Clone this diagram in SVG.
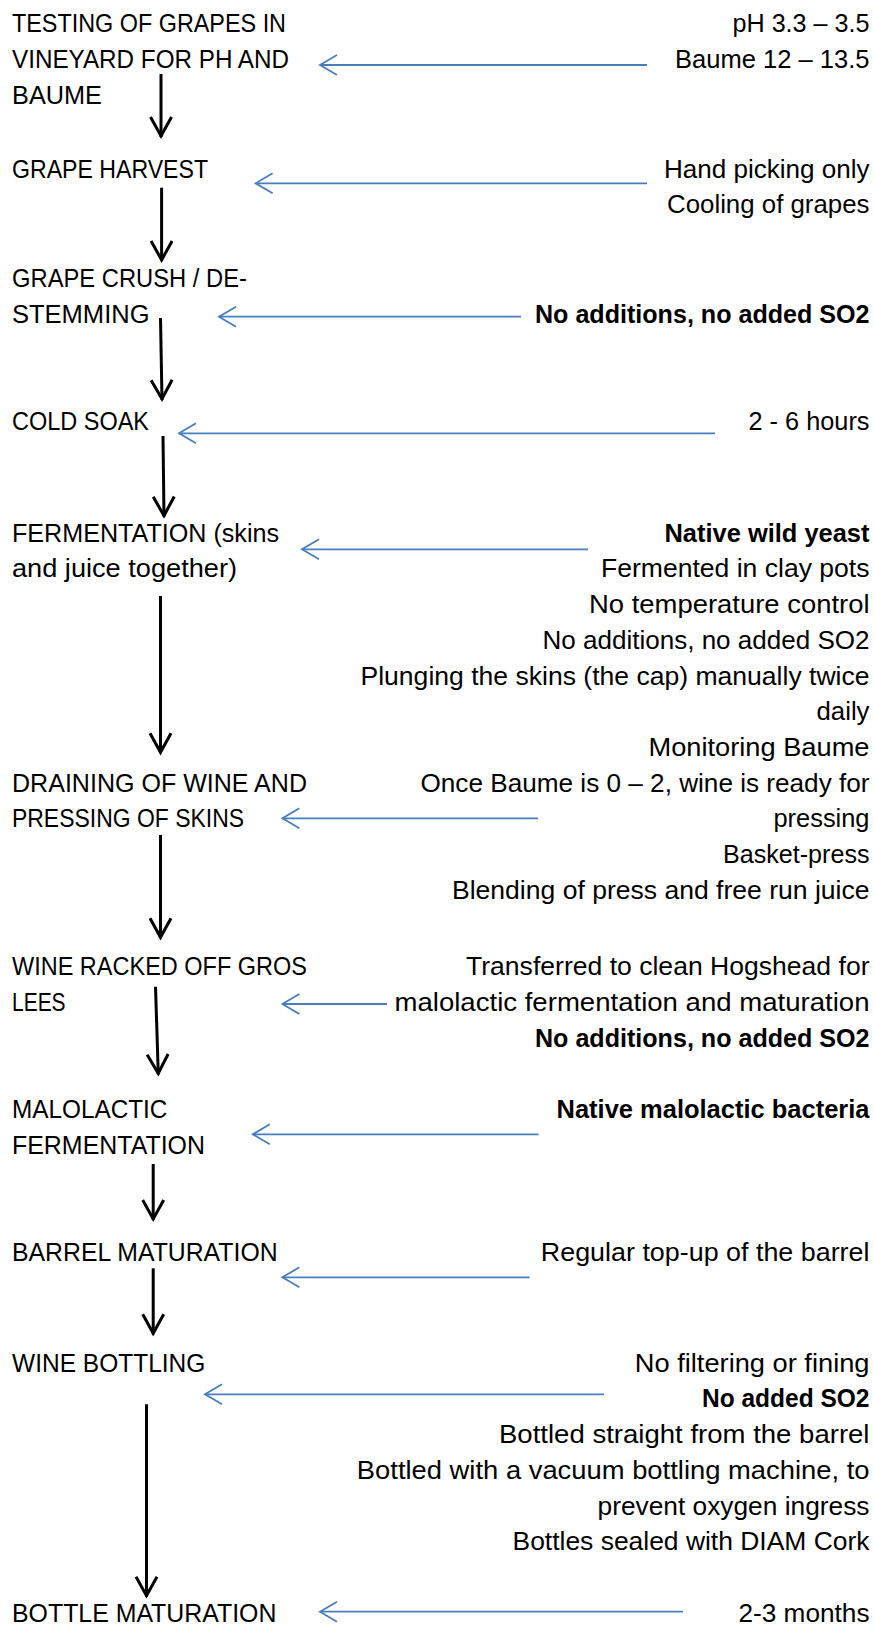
<svg xmlns="http://www.w3.org/2000/svg" width="874" height="1626" viewBox="0 0 874 1626">
<defs>
<style>
text{font-family:"Liberation Sans",Arial,sans-serif;font-size:25.5px;fill:#000}
.l{text-anchor:start}
.r{text-anchor:end}
.b{font-weight:bold}
.blk{stroke:#000;stroke-width:3;fill:none;marker-end:url(#ah)}
.blu{stroke:#4A7EBB;stroke-width:1.8;fill:none;marker-end:url(#bh)}
</style>
<marker id="ah" viewBox="-26 -14 30 28" refX="0" refY="0" markerWidth="30" markerHeight="28" markerUnits="userSpaceOnUse" orient="auto">
<path d="M-20,-10.5 L-1,0 L-20,10.5" fill="none" stroke="#000" stroke-width="3" stroke-linejoin="miter"/>
</marker>
<marker id="bh" viewBox="-22 -13 26 26" refX="0" refY="0" markerWidth="26" markerHeight="26" markerUnits="userSpaceOnUse" orient="auto">
<path d="M-17,-10 L0,0 L-17,10" fill="none" stroke="#4A7EBB" stroke-width="1.8"/>
</marker>
</defs>
<rect width="874" height="1626" fill="#fff"/>

<g id="connectors">
<line class="blk" x1="161" y1="74" x2="161" y2="137"/>
<line class="blk" x1="161.6" y1="187.7" x2="161.6" y2="261"/>
<line class="blk" x1="160.5" y1="318" x2="162" y2="400"/>
<line class="blk" x1="163" y1="436" x2="164" y2="516.7"/>
<line class="blk" x1="160.5" y1="596" x2="160.5" y2="753.3"/>
<line class="blk" x1="160.5" y1="835" x2="160.5" y2="938.3"/>
<line class="blk" x1="155.5" y1="986.7" x2="158.3" y2="1074.3"/>
<line class="blk" x1="153.2" y1="1164" x2="153.2" y2="1220"/>
<line class="blk" x1="153.2" y1="1268.3" x2="153.2" y2="1334.3"/>
<line class="blk" x1="146.5" y1="1404.3" x2="146.5" y2="1596.7"/>

<line class="blu" x1="647" y1="65" x2="320" y2="65"/>
<line class="blu" x1="647" y1="183.3" x2="255.6" y2="183.3"/>
<line class="blu" x1="521" y1="316.7" x2="219" y2="316.7"/>
<line class="blu" x1="715" y1="433.3" x2="179" y2="433.3"/>
<line class="blu" x1="588" y1="549.3" x2="302" y2="549.3"/>
<line class="blu" x1="538" y1="818.3" x2="282.4" y2="818.3"/>
<line class="blu" x1="387" y1="1004" x2="282.4" y2="1004"/>
<line class="blu" x1="538.6" y1="1134.3" x2="252.8" y2="1134.3"/>
<line class="blu" x1="529.6" y1="1277.3" x2="282.4" y2="1277.3"/>
<line class="blu" x1="604" y1="1394.3" x2="205" y2="1394.3"/>
<line class="blu" x1="683" y1="1611.7" x2="320" y2="1611.7"/>
</g>

<g id="step-testing">
<text class="l" x="12" y="31.7" textLength="274" lengthAdjust="spacingAndGlyphs">TESTING OF GRAPES IN</text>
<text class="l" x="12" y="67.7" textLength="277" lengthAdjust="spacingAndGlyphs">VINEYARD FOR PH AND</text>
<text class="l" x="12" y="104" textLength="90" lengthAdjust="spacingAndGlyphs">BAUME</text>
</g>
<g id="note-testing">
<text class="r" x="869.5" y="31.7" textLength="137" lengthAdjust="spacingAndGlyphs">pH 3.3 – 3.5</text>
<text class="r" x="869.5" y="67.7" textLength="194.5" lengthAdjust="spacingAndGlyphs">Baume 12 – 13.5</text>
</g>

<g id="step-harvest">
<text class="l" x="12" y="177.7" textLength="196" lengthAdjust="spacingAndGlyphs">GRAPE HARVEST</text>
</g>
<g id="note-harvest">
<text class="r" x="869.5" y="177.7" textLength="205.6" lengthAdjust="spacingAndGlyphs">Hand picking only</text>
<text class="r" x="869.5" y="213.3" textLength="202.5" lengthAdjust="spacingAndGlyphs">Cooling of grapes</text>
</g>

<g id="step-crush">
<text class="l" x="12" y="287.3" textLength="235" lengthAdjust="spacingAndGlyphs">GRAPE CRUSH / DE-</text>
<text class="l" x="12" y="323.3" textLength="137.5" lengthAdjust="spacingAndGlyphs">STEMMING</text>
</g>
<g id="note-crush">
<text class="r b" x="869.5" y="323.3" textLength="334.5" lengthAdjust="spacingAndGlyphs">No additions, no added SO2</text>
</g>

<g id="step-coldsoak">
<text class="l" x="12" y="430" textLength="137" lengthAdjust="spacingAndGlyphs">COLD SOAK</text>
</g>
<g id="note-coldsoak">
<text class="r" x="869.5" y="430" textLength="121" lengthAdjust="spacingAndGlyphs">2 - 6 hours</text>
</g>

<g id="step-fermentation">
<text class="l" x="12" y="541.7" textLength="267" lengthAdjust="spacingAndGlyphs">FERMENTATION (skins</text>
<text class="l" x="12" y="577.4" textLength="225" lengthAdjust="spacingAndGlyphs">and juice together)</text>
</g>
<g id="note-fermentation">
<text class="r b" x="869.5" y="541.7" textLength="205" lengthAdjust="spacingAndGlyphs">Native wild yeast</text>
<text class="r" x="869.5" y="577.4" textLength="268.5" lengthAdjust="spacingAndGlyphs">Fermented in clay pots</text>
<text class="r" x="869.5" y="613.1" textLength="280.5" lengthAdjust="spacingAndGlyphs">No temperature control</text>
<text class="r" x="869.5" y="648.8" textLength="327" lengthAdjust="spacingAndGlyphs">No additions, no added SO2</text>
<text class="r" x="869.5" y="684.5" textLength="509" lengthAdjust="spacingAndGlyphs">Plunging the skins (the cap) manually twice</text>
<text class="r" x="869.5" y="720.2" textLength="53" lengthAdjust="spacingAndGlyphs">daily</text>
<text class="r" x="869.5" y="755.9" textLength="221" lengthAdjust="spacingAndGlyphs">Monitoring Baume</text>
</g>

<g id="step-draining">
<text class="l" x="12" y="791.6" textLength="295" lengthAdjust="spacingAndGlyphs">DRAINING OF WINE AND</text>
<text class="l" x="12" y="827.3" textLength="232" lengthAdjust="spacingAndGlyphs">PRESSING OF SKINS</text>
</g>
<g id="note-draining">
<text class="r" x="869.5" y="791.6" textLength="449" lengthAdjust="spacingAndGlyphs">Once Baume is 0 – 2, wine is ready for</text>
<text class="r" x="869.5" y="827.3" textLength="96" lengthAdjust="spacingAndGlyphs">pressing</text>
<text class="r" x="869.5" y="863" textLength="146.5" lengthAdjust="spacingAndGlyphs">Basket-press</text>
<text class="r" x="869.5" y="898.7" textLength="417.5" lengthAdjust="spacingAndGlyphs">Blending of press and free run juice</text>
</g>

<g id="step-racked">
<text class="l" x="12" y="975" textLength="295" lengthAdjust="spacingAndGlyphs">WINE RACKED OFF GROS</text>
<text class="l" x="12" y="1010.7" textLength="53.6" lengthAdjust="spacingAndGlyphs">LEES</text>
</g>
<g id="note-racked">
<text class="r" x="869.5" y="975" textLength="403.5" lengthAdjust="spacingAndGlyphs">Transferred to clean Hogshead for</text>
<text class="r" x="869.5" y="1010.7" textLength="475" lengthAdjust="spacingAndGlyphs">malolactic fermentation and maturation</text>
<text class="r b" x="869.5" y="1046.7" textLength="334.5" lengthAdjust="spacingAndGlyphs">No additions, no added SO2</text>
</g>

<g id="step-malolactic">
<text class="l" x="12" y="1118.3" textLength="155.4" lengthAdjust="spacingAndGlyphs">MALOLACTIC</text>
<text class="l" x="12" y="1154" textLength="193" lengthAdjust="spacingAndGlyphs">FERMENTATION</text>
</g>
<g id="note-malolactic">
<text class="r b" x="869.5" y="1118.3" textLength="313" lengthAdjust="spacingAndGlyphs">Native malolactic bacteria</text>
</g>

<g id="step-barrel">
<text class="l" x="12" y="1260.7" textLength="265.6" lengthAdjust="spacingAndGlyphs">BARREL MATURATION</text>
</g>
<g id="note-barrel">
<text class="r" x="869.5" y="1260.7" textLength="328.7" lengthAdjust="spacingAndGlyphs">Regular top-up of the barrel</text>
</g>

<g id="step-bottling">
<text class="l" x="12" y="1371.7" textLength="193.4" lengthAdjust="spacingAndGlyphs">WINE BOTTLING</text>
</g>
<g id="note-bottling">
<text class="r" x="869.5" y="1371.7" textLength="234.7" lengthAdjust="spacingAndGlyphs">No filtering or fining</text>
<text class="r b" x="869.5" y="1407.4" textLength="167.5" lengthAdjust="spacingAndGlyphs">No added SO2</text>
<text class="r" x="869.5" y="1443.1" textLength="370.5" lengthAdjust="spacingAndGlyphs">Bottled straight from the barrel</text>
<text class="r" x="869.5" y="1478.8" textLength="512.7" lengthAdjust="spacingAndGlyphs">Bottled with a vacuum bottling machine, to</text>
<text class="r" x="869.5" y="1514.5" textLength="272" lengthAdjust="spacingAndGlyphs">prevent oxygen ingress</text>
<text class="r" x="869.5" y="1550.2" textLength="357" lengthAdjust="spacingAndGlyphs">Bottles sealed with DIAM Cork</text>
</g>

<g id="step-bottle-maturation">
<text class="l" x="12" y="1621.7" textLength="264.4" lengthAdjust="spacingAndGlyphs">BOTTLE MATURATION</text>
</g>
<g id="note-bottle-maturation">
<text class="r" x="869.5" y="1621.7" textLength="131" lengthAdjust="spacingAndGlyphs">2-3 months</text>
</g>
</svg>
